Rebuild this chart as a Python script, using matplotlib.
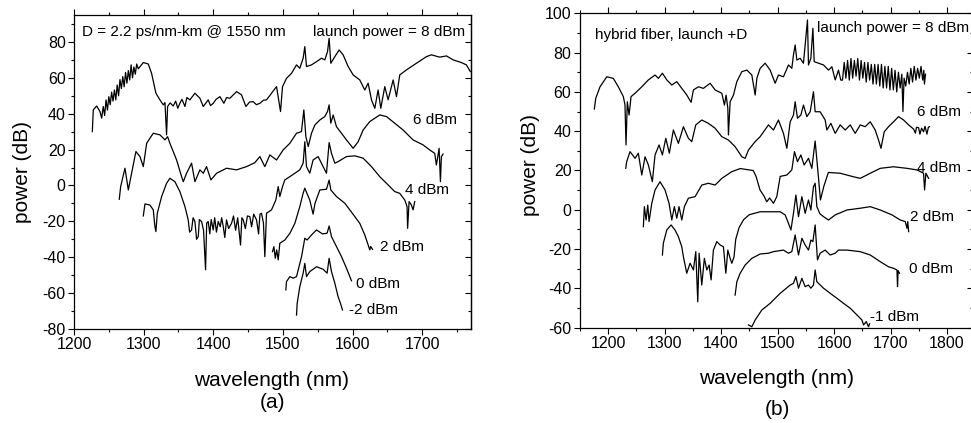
import matplotlib
matplotlib.use("Agg")
import matplotlib.pyplot as plt
from matplotlib.ticker import MultipleLocator

plt.rcParams['font.family'] = ['Liberation Sans', 'DejaVu Sans']
plt.rcParams['axes.unicode_minus'] = False

# ---------------- panel (a) data: (wavelength nm, power dB) ----------------
a_8dBm = [(1226.3,30),(1227.7,42.1),(1232.5,44.3),(1237.3,41.2),(1239.7,37.5),(1242,44),(1244,39),
          (1246,47.7),(1248,42),(1250,49.5),(1252,45),(1254,52),(1256,47),(1258,53.2),(1260,47.7),
          (1262,56),(1264,50),(1266,59),(1268,54),(1270,60.7),(1272,55),(1274,63),(1276,57),(1278,64),
          (1280,58.8),(1282,67.2),(1284,60),(1286,66),(1288,62),(1290,67.7),(1292.3,65),(1299.5,68.5),
          (1306.6,67.7),(1311.4,62.5),(1317.6,51.4),(1323.4,47.7),(1328.2,44.9),(1330.6,46.2),(1332.9,28.2),
          (1334.4,44),(1338,46),(1342.5,44.3),(1346,47),(1349,43),(1352,45.8),(1355,48),(1359.3,44),
          (1362,49),(1366.4,47.7),(1373.6,51.4),(1380.8,48.6),(1385.6,44),(1392.7,47.7),(1396,44.5),
          (1399.9,45.8),(1404,48),(1409.5,49.5),(1415.2,45.8),(1419,49),(1423.8,48.6),(1433.4,52.3),
          (1440.5,50.5),(1446.8,44),(1452,46.5),(1457.3,46.7),(1462,45),(1466.9,45.8),(1472,47.5),
          (1476.4,47.7),(1483.6,51.4),(1490.8,55.1),(1496.5,41.2),(1499.4,55.1),(1505.1,59.7),(1512.3,62.5),
          (1519.5,67.2),(1524.2,65.3),(1529,70.9),(1531.4,77.4),(1533.8,66.3),(1541,67.2),(1548.2,69),
          (1555.3,70.9),(1560.1,70),(1564,74.6),(1566.3,82),(1568.7,68.1),(1574.5,71.8),(1580.7,75.5),
          (1586.4,72.8),(1593.6,66.3),(1600.8,61.6),(1610.3,58.8),(1617.5,53.2),(1622.3,57),(1627.1,47.7),
          (1631.9,43),(1636.6,53.2),(1640.5,43),(1646.2,55.1),(1651,47.7),(1658.2,58.8),(1663,49.5),
          (1667.7,61.6),(1677.3,64.4),(1691.6,68.1),(1706,71.8),(1713.2,72.8),(1725.1,71.5),(1734.7,72.2),
          (1744.3,70),(1756.2,68.5),(1763.4,67.2),(1769,63.5)]

a_6dBm = [(1265,-7.7),(1267,-0.6),(1273.2,9.6),(1278,-2.5),(1282.7,6.8),(1288.9,18.9),(1294.7,16.1),
          (1299.5,10.5),(1304.3,23.5),(1313.8,29.1),(1323.4,28.2),(1330.6,25.4),(1334.4,27.2),(1337.7,23.5),
          (1347.3,14.2),(1354.5,4.9),(1356.9,2.1),(1361.6,6.8),(1368.8,12.4),(1373.6,2.1),(1380.8,8.7),
          (1385.6,6.8),(1390.3,10.5),(1396.6,3.1),(1404.7,6.8),(1419,9.6),(1433.4,8.7),(1447.7,10.5),
          (1459.7,12.7),(1466.9,16.1),(1474,10.5),(1481.2,17),(1490.8,14.2),(1500.3,19.8),(1509.9,23.5),
          (1519.5,29.1),(1526.6,30),(1530,42.1),(1532.9,27.2),(1536.3,21.7),(1541,29.1),(1545.8,33.7),
          (1553,36.5),(1560.1,38.4),(1564,41.2),(1566.3,44.9),(1568.7,34.7),(1572.1,39.3),(1576.8,32.8),
          (1584,29.1),(1591.2,25.4),(1600.8,20.7),(1608,24.4),(1615.1,30.9),(1624.7,35.6),(1639,39.3),
          (1648.6,38.4),(1660.5,34.7),(1672.5,30.9),(1686.8,25.4),(1701.2,22.6),(1710.7,19.8),(1717.9,17.9),
          (1720.3,11.4),(1724.2,20.7),(1726.1,2.1),(1727.5,16.1),(1729.9,17.5)]

a_4dBm = [(1299.5,-17),(1301.9,-10.3),(1309,-10.9),(1313.8,-13.6),(1316.2,-23),(1317.6,-25.7),(1319.6,-15.5),
          (1325.8,-6.2),(1332.9,1.2),(1337.7,4),(1344.9,2.1),(1352,-3.4),(1359.3,-11.8),(1364,-19.2),
          (1366,-26),(1368.8,-24.8),(1371,-18),(1373.6,-20.1),(1376,-30),(1378.4,-28.5),(1380,-19),
          (1383.2,-20.1),(1386,-25),(1388.9,-47),(1390.5,-21),(1392.7,-20.1),(1395,-27),(1397,-19),
          (1399.9,-24.8),(1402,-18),(1404.5,-26),(1407.1,-20.1),(1410,-23),(1412,-18),(1414.3,-22.9),
          (1416.5,-29),(1419,-19.2),(1422,-24),(1426.2,-21.1),(1429,-17),(1432,-25),(1435,-18),
          (1439.1,-33.2),(1441,-18),(1443,-19.2),(1446,-24),(1449,-17),(1452.5,-17.4),(1455,-23),
          (1458,-16),(1462.1,-19.2),(1465,-27),(1467,-16),(1469.2,-15.5),(1472,-21),(1474,-39.7),
          (1476.4,-15.5),(1483.6,-13.6),(1489.8,-8.1),(1493.2,-0.6),(1495.5,-6.2),(1499.4,-0.6),(1502.7,3.1),
          (1509.9,4.9),(1517.1,6.8),(1524.2,8.7),(1529,12.4),(1531.4,24.4),(1533.8,10.5),(1538.5,6.8),
          (1543.3,14.2),(1550.5,16.1),(1557.7,10.5),(1562.5,6.8),(1566.3,23.9),(1569.7,17.9),(1574.5,12.4),
          (1579.3,13.3),(1591.2,16.1),(1603.2,16.5),(1615.1,15.2),(1627.1,10.5),(1639,4.9),(1651,0.3),
          (1660.5,-3.4),(1667.7,-4.4),(1674.9,-8.1),(1678.2,-11.8),(1679,-23.9),(1681.1,-9),(1684.4,-10.9),
          (1686.8,-13.6),(1689.2,-9)]

a_2dBm = [(1485,-36.9),(1487,-34.1),(1489,-40.6),(1491,-35.9),(1493.2,-41.5),(1495.5,-32.2),(1502.7,-30.4),
          (1509.9,-26.7),(1517.1,-21.1),(1524.2,-11.8),(1529,-4.3),(1531.4,-1.5),(1534,-4),(1538.5,-8.1),
          (1543.3,-16),(1546,-10),(1553,-2.5),(1562.5,-2.1),(1566.3,3),(1568.7,-2.5),(1576.9,-6.2),
          (1588.8,-9.9),(1596,-13.6),(1610.3,-21.1),(1617.5,-27.6),(1624.7,-35.9),(1626,-34),(1628.6,-35.6)]

a_0dBm = [(1504.2,-58.2),(1505.1,-53.6),(1509.9,-50.8),(1514.6,-51.7),(1519.5,-50.8),(1526.7,-39.7),
          (1531.4,-29.4),(1534.7,-30.4),(1541,-27.6),(1548.2,-24.8),(1556.8,-27),(1563.4,-26.6),
          (1566.3,-22.6),(1569.7,-28.5),(1576.9,-34.1),(1584.1,-39.7),(1591.2,-46.1),(1598.4,-53.1)]

a_m2dBm = [(1519.5,-72.2),(1520.4,-65.7),(1524.2,-56.4),(1529,-48.9),(1531.4,-43.4),(1533.8,-50.8),
           (1538.6,-48),(1548.2,-45.3),(1557.7,-46.7),(1563.4,-48.9),(1566.3,-40.6),(1569.7,-48),
           (1574.5,-54.5),(1579.2,-62),(1582.6,-65.7),(1585.5,-69.4)]

a_curves = [a_8dBm, a_6dBm, a_4dBm, a_2dBm, a_0dBm, a_m2dBm]
a_labels = [("6 dBm", 1687, 36.5), ("4 dBm", 1675, -2.5), ("2 dBm", 1639, -34.1),
            ("0 dBm", 1604.6, -55), ("-2 dBm", 1595, -69.4)]

# ---------------- panel (b) data ----------------
b_8dBm = [(1175.7,51.3),(1178.2,56.7),(1185.8,62.6),(1197.7,67.7),(1209.3,66.9),(1218.2,62.6),(1227.1,57.6),
          (1230,53.3),(1231.8,33),(1234.1,55),(1237.2,48.2),(1240.7,57.6),(1247.8,59.3),(1259.7,62.6),
          (1271.4,66.1),(1283.2,68.6),(1289.1,66.9),(1296.2,69.5),(1304,66.1),(1312.8,63.5),(1321.7,65.2),
          (1330.5,61.8),(1339.4,58.4),(1347,54.7),(1351.1,61),(1360,62.6),(1368.8,61.8),(1380.7,64.4),
          (1389.5,61),(1401.4,59.3),(1406,53.3),(1409,58.4),(1412,51.7),(1413.1,38.1),(1416.1,55),
          (1422,58.4),(1427.9,65.2),(1436.8,70.3),(1445.7,71.1),(1454.5,68.6),(1460.4,58.4),(1463.4,66.9),
          (1469.2,72),(1478.1,74.6),(1486.9,71.1),(1495.8,64.4),(1501.6,68.6),(1510.5,67.7),(1519.4,73.7),
          (1525.3,72),(1528.2,78.8),(1531.2,83.9),(1534.2,76.2),(1540,77.1),(1545.9,74.6),(1553,96.6),
          (1554.8,73.7),(1559,77.1),(1562.6,92.4),(1564.9,75.4),(1572.5,74.6),(1581.4,73.7),(1590.2,71.1),
          (1596.2,72.8),(1602.1,66.1),(1607.9,71.1),(1612,66),(1615,66),(1618,75),(1621,67),(1624,76),
          (1627,66),(1630,77),(1633,67),(1636,76),(1639,68),(1642,77),(1645,66),(1648,76),(1651,67),
          (1654,75),(1657,65),(1660,75),(1663,66),(1666,74),(1669,64),(1672,74),(1675,64),(1678,74),
          (1681,63),(1684,74),(1687,62),(1690,73),(1693,62),(1696,73),(1699,61),(1702,72),(1705,61),
          (1708,71),(1711,60),(1714,70),(1717,62),(1720,69),(1722,50),(1724,67),(1727,63),(1730,70),
          (1733,64),(1736,72),(1739,65),(1742,73),(1745,66),(1748,72),(1751,67),(1754,73),(1757,66),
          (1759,71),(1760,64),(1762,69)]

b_6dBm = [(1231.3,21.1),(1233,24.5),(1238.9,29.6),(1247.8,26.2),(1253.6,28.8),(1259.7,17.7),(1265.5,27),
          (1271.4,22.8),(1278.4,14.3),(1283.2,27.9),(1290.3,33),(1296.2,27.9),(1302.2,36.4),(1308.5,28.8),
          (1315.6,40.6),(1324.5,33.8),(1333.4,42.3),(1342.2,36.4),(1348.2,34.7),(1355.3,43.2),(1365.9,45.7),
          (1377.6,44),(1389.5,41.5),(1401.4,37.2),(1413.1,35.5),(1425,32.1),(1436.8,27),(1442.7,26.2),
          (1448.5,30.4),(1460.4,34.7),(1469.2,37.2),(1483.9,43.2),(1492.8,40.6),(1501.6,45.7),(1510.5,38.9),
          (1516.5,31.3),(1522.4,44.8),(1528.2,48.2),(1531.2,55),(1535.3,46.6),(1541.3,48.2),(1545.9,53.3),
          (1551.9,47.4),(1557.8,49.9),(1563.6,60.1),(1566.6,49.9),(1575.4,49.9),(1584.3,45.7),(1587.3,40.6),
          (1594.4,44),(1602.1,38.9),(1610.9,43.2),(1619.8,40.6),(1628.7,43.2),(1637.5,38.9),(1646.4,43.2),
          (1655.2,42.3),(1664.1,44.8),(1672.9,40.6),(1678.8,35.5),(1683.1,31.3),(1688.9,39.7),(1696.5,42.3),
          (1705.4,44.8),(1714.2,47.4),(1723.1,45.7),(1732,43.2),(1740.8,41.1),(1744,39),(1746,42),
          (1749.7,41.8),(1752,38.5),(1755,41.5),(1758.5,39.7),(1761,42.5),(1764.5,38.5),(1767,42),(1769.1,42.3)]

b_4dBm = [(1262.5,-8.6),(1264.3,1.6),(1267.3,-5.2),(1270.3,2.4),(1272.6,-6),(1277.4,3.3),(1283.2,10.1),
          (1292,14.3),(1300.9,10.1),(1308,3.3),(1312.8,-5.2),(1317.4,1.6),(1321.7,-4.3),(1325.7,1.6),
          (1330.5,-5.2),(1335.1,1.6),(1342.2,5.9),(1354.1,6.7),(1366,12.6),(1377.6,13.5),(1389.5,12.6),
          (1401.4,16),(1419,19.4),(1434,21),(1445,20.5),(1457,20),(1462,17),(1469,10.1),(1476,7),(1481,4.1),
          (1486,6),(1492.8,3.3),(1498.7,6.7),(1504.7,17),(1516.5,17.7),(1525.3,20.3),(1530,29.6),
          (1535.3,24.5),(1541.3,27.9),(1547.1,22.8),(1554.8,26.2),(1560.7,21.1),(1566.6,35),(1570.7,22),
          (1576,5),(1582,12),(1590,19),(1610.9,18.6),(1634.5,16.8),(1646.4,16),(1664.1,18.6),(1681.8,21.1),
          (1705.4,21.9),(1729.1,21.1),(1746.8,20.3),(1758.5,18.6),(1760.3,10.1),(1762.6,18.6),(1767.4,16)]

b_2dBm = [(1296.2,-23),(1297.9,-17),(1303.9,-10.3),(1311.6,-7.7),(1318.6,-10.3),(1324.5,-13.7),
          (1330.5,-18.8),(1333.4,-23.9),(1339.3,-32.3),(1345.2,-27.2),(1351.1,-30.6),(1355.3,-21.3),
          (1358.8,-46.8),(1361.2,-22.1),(1365.9,-38.3),(1370.5,-24.7),(1374.8,-30.6),(1378.9,-28.1),
          (1382.4,-35.7),(1386.5,-20.5),(1392.5,-16.2),(1398.4,-17.9),(1404.2,-18.8),(1408.5,-32.3),
          (1412,-20.5),(1416.1,-24.7),(1419.1,-27.2),(1423,-24),(1426,-15),(1432,-9),(1440,-5),(1450,-2.5),
          (1469.2,-1),(1504.7,-1),(1513.5,-2.6),(1519.4,-6.9),(1523.7,-10.3),(1528.2,-1.8),(1532.5,7.5),
          (1537.1,-3.5),(1543.1,6.7),(1548.9,-1.8),(1554.8,5),(1559,-0.1),(1563.6,11.8),(1566.6,13.5),
          (1569.6,1.6),(1575,-2),(1581.4,-3.5),(1590.2,-5.2),(1602.1,-2.6),(1622.8,-0.1),(1646.4,0.8),
          (1664.1,1.6),(1681.8,-0.1),(1702.6,-2.6),(1717.3,-5.2),(1726.1,-6),(1729.1,-9.4),(1730.5,-6),
          (1732.1,-11.1)]

b_0dBm = [(1424.9,-43.4),(1428,-36.6),(1433.8,-32.3),(1442.7,-28.1),(1454.5,-24.7),(1469.2,-22.5),
          (1484,-22.1),(1492.8,-21.3),(1510.5,-20.5),(1519.4,-22.1),(1525.3,-21.3),(1531.2,-12.8),
          (1537.1,-23),(1543.1,-14.5),(1548.9,-17.9),(1554.8,-20.5),(1559,-15.4),(1562.6,-16.2),
          (1566.6,-7.7),(1570.7,-25.5),(1575.4,-22.1),(1584.3,-20.5),(1593.2,-23),(1602.1,-22.1),
          (1607.9,-20.5),(1622.8,-20.5),(1646.4,-21.3),(1664.1,-23),(1681.8,-26.4),(1696.5,-29),
          (1705.4,-29.8),(1711.4,-30.6),(1712.4,-39.1),(1713.5,-31),(1715.9,-32.3)]

b_m1dBm = [(1448.5,-58.6),(1454.5,-59.5),(1460.4,-56.1),(1472.2,-51),(1486.9,-47.6),(1504.7,-42.5),
           (1522.4,-38.3),(1528.2,-37.4),(1532.5,-34),(1537.1,-39.9),(1543.1,-34.9),(1548.9,-39.1),
           (1554.8,-38.3),(1559,-39.9),(1563.6,-38.3),(1566.6,-30.6),(1569.6,-36.6),(1581.4,-39.9),
           (1593.2,-42.5),(1605,-45),(1616.8,-47.6),(1628.7,-50.1),(1640.5,-53.5),(1649.4,-56.1),
           (1652.3,-58.6),(1657,-56.9),(1661.1,-59.5),(1663,-58)]

b_curves = [b_8dBm, b_6dBm, b_4dBm, b_2dBm, b_0dBm, b_m1dBm]
b_labels = [("6 dBm", 1746.6, 49.9), ("4 dBm", 1746.6, 21.1), ("2 dBm", 1735, -3.5),
            ("0 dBm", 1732, -30.3), ("-1 dBm", 1664, -54.4)]

W, H = 971, 423
fig = plt.figure(figsize=(W / 100, H / 100), dpi=100)

axA = fig.add_axes([74 / W, 1 - 329 / H, (471 - 74) / W, (329 - 15) / H])
axB = fig.add_axes([579.8 / W, 1 - 327.7 / H, (973 - 579.8) / W, (327.7 - 13.3) / H])


def style(ax, xlim, ylim):
    ax.set_xlim(*xlim)
    ax.set_ylim(*ylim)
    ax.xaxis.set_major_locator(MultipleLocator(100))
    ax.xaxis.set_minor_locator(MultipleLocator(50))
    ax.yaxis.set_major_locator(MultipleLocator(20))
    ax.yaxis.set_minor_locator(MultipleLocator(10))
    for s in ax.spines.values():
        s.set_linewidth(0.9)
    ax.tick_params(which='both', direction='out', top=True, right=False, width=0.8, labelsize=11.5, pad=2)
    ax.tick_params(which='major', length=4)
    ax.tick_params(which='minor', length=2.5)
    sec = ax.secondary_yaxis('right')
    sec.yaxis.set_major_locator(MultipleLocator(20))
    sec.yaxis.set_minor_locator(MultipleLocator(10))
    sec.tick_params(which='both', direction='in', width=0.8, labelright=False)
    sec.tick_params(which='major', length=4)
    sec.tick_params(which='minor', length=2.5)
    sec.spines['right'].set_linewidth(0.9)


style(axA, (1200, 1770), (-80, 95))
style(axB, (1150, 1846), (-60, 100))

for c in a_curves:
    wl, p = zip(*c)
    axA.plot(wl, p, color='black', lw=0.9)
for c in b_curves:
    wl, p = zip(*c)
    axB.plot(wl, p, color='black', lw=0.9)

for t, x, y in a_labels:
    axA.text(x, y, t, fontsize=11, ha='left', va='center')
for t, x, y in b_labels:
    axB.text(x, y, t, fontsize=11, ha='left', va='center')

axA.text(0.019, 0.946, "D = 2.2 ps/nm-km @ 1550 nm", transform=axA.transAxes, fontsize=11,
         ha='left', va='center')
axA.text(0.985, 0.946, "launch power = 8 dBm", transform=axA.transAxes, fontsize=11,
         ha='right', va='center')
axB.text(0.038, 0.931, "hybrid fiber, launch +D", transform=axB.transAxes, fontsize=11,
         ha='left', va='center')
axB.text(0.603, 0.952, "launch power = 8 dBm", transform=axB.transAxes, fontsize=11,
         ha='left', va='center')

fig.text(272 / W, 1 - 380 / H, "wavelength (nm)", fontsize=15, ha='center', va='center')
fig.text(272 / W, 1 - 402 / H, "(a)", fontsize=15, ha='center', va='center')
fig.text(777 / W, 1 - 378 / H, "wavelength (nm)", fontsize=15, ha='center', va='center')
fig.text(777 / W, 1 - 409 / H, "(b)", fontsize=15, ha='center', va='center')
fig.text(23 / W, 1 - 172 / H, "power (dB)", fontsize=15, ha='center', va='center', rotation=90)
fig.text(530 / W, 1 - 165 / H, "power (dB)", fontsize=15, ha='center', va='center', rotation=90)

fig.savefig("out.png", dpi=100)
